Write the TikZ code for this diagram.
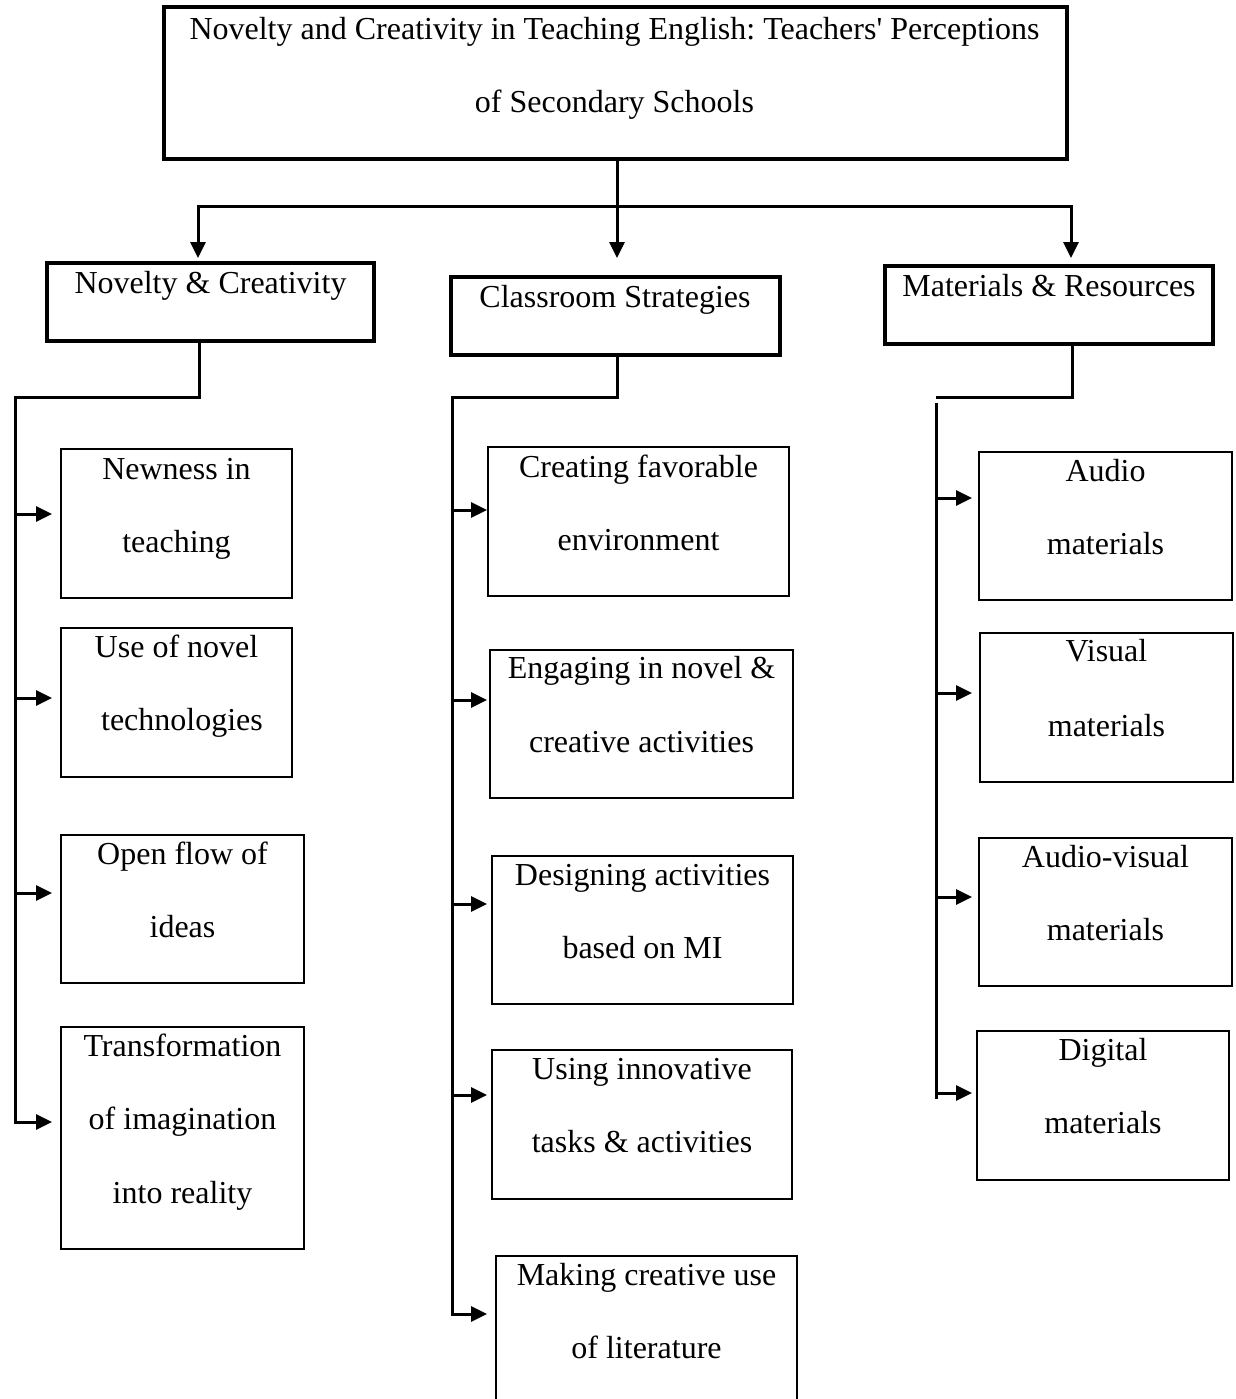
\documentclass[tikz,border=0pt]{standalone}
\usepackage{fontspec}
\setmainfont{Liberation Serif}
\usetikzlibrary{arrows.meta,fit}
\frenchspacing
\begin{document}
\begin{tikzpicture}[x=1pt,y=-1pt,
  every node/.style={inner sep=0pt,outer sep=0pt},
  titlebox/.style={draw,line width=4pt},
  headbox/.style={draw,line width=3.5pt},
  itembox/.style={draw,line width=2.5pt},
  conn/.style={line width=3pt},
  arr/.style={line width=3pt,-{Triangle[length=16pt,width=15pt]}},
  txt/.style={anchor=base,font=\fontsize{32}{36}\selectfont}]
\useasboundingbox (0,0) rectangle (1235,1399);
\clip (0,0) rectangle (1235,1399);

% ---------- boxes ----------
\node[titlebox,fit={(164,7) (1067,159)}] (title) {};
\node[headbox,fit={(47,263) (374,341)}] (nov) {};
\node[headbox,fit={(451,277) (780,355)}] (cls) {};
\node[headbox,fit={(885,266) (1213,344)}] (mat) {};

\node[itembox,fit={(61,449) (292,598)}] (newness) {};
\node[itembox,fit={(61,628) (292,777)}] (usenovel) {};
\node[itembox,fit={(61,835) (304,983)}] (openflow) {};
\node[itembox,fit={(61,1027) (304,1249)}] (transf) {};

\node[itembox,fit={(488,447) (789,596)}] (creating) {};
\node[itembox,fit={(490,650) (793,798)}] (engaging) {};
\node[itembox,fit={(492,856) (793,1004)}] (designing) {};
\node[itembox,fit={(492,1050) (792,1199)}] (using) {};
\node[itembox,fit={(496,1256) (797,1420)}] (making) {};

\node[itembox,fit={(979,452) (1232,600)}] (audio) {};
\node[itembox,fit={(980,633) (1233,782)}] (visual) {};
\node[itembox,fit={(979,838) (1232,986)}] (audiovis) {};
\node[itembox,fit={(977,1031) (1229,1180)}] (digital) {};

% ---------- texts ----------
\node[txt] (t01) at (614.5,40) {Novelty and Creativity in Teaching English: Teachers\textquotesingle\ Perceptions};
\node[txt] (t02) at (614.5,113) {of Secondary Schools};
\node[txt] (t03) at (210.5,293) {Novelty \& Creativity};
\node[txt] (t04) at (615,307) {Classroom Strategies};
\node[txt] (t05) at (1049,296) {Materials \& Resources};

\node[txt] (t06) at (176.5,479) {Newness in};
\node[txt] (t07) at (176.5,552) {teaching};
\node[txt] (t08) at (176.5,657) {Use of novel};
\node[txt] (t09) at (182,730) {technologies};
\node[txt] (t10) at (182.5,864) {Open flow of};
\node[txt] (t11) at (182.5,937) {ideas};
\node[txt] (t12) at (182.5,1056) {Transformation};
\node[txt] (t13) at (182.5,1129) {of imagination};
\node[txt] (t14) at (182.5,1203) {into reality};

\node[txt] (t15) at (638.5,477) {Creating favorable};
\node[txt] (t16) at (638.5,550) {environment};
\node[txt] (t17) at (641.5,678) {Engaging in novel \&};
\node[txt] (t18) at (641.5,752) {creative activities};
\node[txt] (t19) at (642.5,885) {Designing activities};
\node[txt] (t20) at (642.5,958) {based on MI};
\node[txt] (t21) at (642,1079) {Using innovative};
\node[txt] (t22) at (642,1152) {tasks \& activities};
\node[txt] (t23) at (646.5,1285) {Making creative use};
\node[txt] (t24) at (646.5,1358) {of literature};

\node[txt] (t25) at (1105.5,481) {Audio};
\node[txt] (t26) at (1105.5,554) {materials};
\node[txt] (t27) at (1106.5,661) {Visual};
\node[txt] (t28) at (1106.5,736) {materials};
\node[txt] (t29) at (1105.5,867) {Audio-visual};
\node[txt] (t30) at (1105.5,940) {materials};
\node[txt] (t31) at (1103,1060) {Digital};
\node[txt] (t32) at (1103,1133) {materials};

% ---------- top connectors ----------
\coordinate (jT) at (617,206);
\coordinate (barL) at (198,206);
\coordinate (barR) at (1071,206);
\coordinate (tipT) at (0,258);
\draw[conn] (title.south -| jT) -- (jT);
\draw[arr] (jT) -- (barL) -- (barL |- tipT);
\draw[arr] (jT) -- (barR) -- (barR |- tipT);
\draw[arr] (jT) -- (jT |- tipT);

% ---------- left column ----------
\coordinate (spL) at (15,397);
\coordinate (tipL) at (52,0);
\draw[arr] (nov.south -| 199,0) |- (spL) -- (spL |- 0,1122) -- (tipL |- 0,1122);
\draw[arr] (spL |- 0,514) -- (tipL |- 0,514);
\draw[arr] (spL |- 0,698) -- (tipL |- 0,698);
\draw[arr] (spL |- 0,893) -- (tipL |- 0,893);

% ---------- middle column ----------
\coordinate (spM) at (452,397);
\coordinate (tipM) at (487,0);
\draw[arr] (cls.south -| 617,0) |- (spM) -- (spM |- 0,1314) -- (tipM |- 0,1314);
\draw[arr] (spM |- 0,510) -- (tipM |- 0,510);
\draw[arr] (spM |- 0,700) -- (tipM |- 0,700);
\draw[arr] (spM |- 0,904) -- (tipM |- 0,904);
\draw[arr] (spM |- 0,1095) -- (tipM |- 0,1095);

% ---------- right column ----------
\coordinate (jR) at (936,397);
\coordinate (spR) at (936,403);
\coordinate (spRe) at (936,1099);
\coordinate (tipR) at (972,0);
\draw[conn] (mat.south -| 1072,0) |- (jR);
\draw[conn] (spR) -- (spRe);
\draw[arr] (spR |- 0,498) -- (tipR |- 0,498);
\draw[arr] (spR |- 0,693) -- (tipR |- 0,693);
\draw[arr] (spR |- 0,897) -- (tipR |- 0,897);
\draw[arr] (spR |- 0,1093) -- (tipR |- 0,1093);
\end{tikzpicture}
\end{document}
